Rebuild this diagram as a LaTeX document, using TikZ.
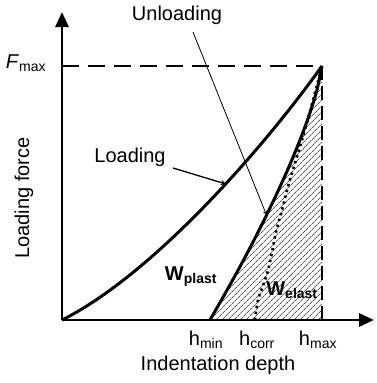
\documentclass[tikz,border=0pt]{standalone}
\usepackage{fontspec}
\setmainfont{Liberation Sans}
\usetikzlibrary{arrows.meta,patterns.meta}
\begin{document}
\begin{tikzpicture}[x=1pt,y=-1pt,>=stealth,
  axis/.style={line width=2.8pt,-{Triangle[length=15pt,width=13pt]}},
  curve/.style={line width=3pt,line join=round},
  guide/.style={line width=2.4pt,dash pattern=on 17pt off 9pt},
  pointer/.style={->,line width=0.8pt},
  lbl/.style={inner sep=0pt,font=\fontsize{20}{22}\selectfont}]
\useasboundingbox (0,0) rectangle (376,383);
% key points
\coordinate (O) at (62,320);
\coordinate (T) at (322,66);
\coordinate (F) at (62,66);
\coordinate (hmin) at (210,320);
\coordinate (hcorr) at (255,320);
\coordinate (hmax) at (322,320);
\coordinate (ytip) at (62,12);
\coordinate (xtip) at (374,320);
% elastic work (hatched)
\fill[pattern={Lines[angle=45,distance=4pt,line width=0.55pt]}]
  plot[smooth] coordinates {(hmin) (224.5,294.6) (238.6,269.2) (252.1,243.8)
    (264.9,218.4) (277.1,193) (288.6,167.6) (299.1,142.2) (308.6,116.8)
    (316.6,91.4) (T)} -- (hmax) -- cycle;
% guides to F_max and h_max
\draw[guide] (F) -- (T);
\draw[guide,dash pattern=on 14pt off 6pt] (T) -- (hmax);
% axes
\draw[axis] (O) -- (ytip);
\draw[axis] (O) -- (xtip);
% loading
\draw[curve] (O) .. controls (152,275) and (262,150) .. (T);
% unloading
\draw[curve] plot[smooth] coordinates {(hmin) (224.5,294.6) (238.6,269.2)
  (252.1,243.8) (264.9,218.4) (277.1,193) (288.6,167.6) (299.1,142.2)
  (308.6,116.8) (316.6,91.4) (T)};
% corrected unloading
\draw[line width=2.6pt,dash pattern=on 2.4pt off 3.6pt] plot[smooth] coordinates
  {(hcorr) (258,300) (265,280) (270,262) (276,232) (282,210) (289,183)
   (296,160) (304,133) (312,104) (T)};
% labels
\node[lbl] (unl) at (177,15) {Unloading};
\node[lbl] (ld) at (130,157) {Loading};
\node[lbl] (fmax) at (26,63) {\textit{F}\textsubscript{max}};
\node[lbl] (wpl) at (191,277) {\textbf{W\textsubscript{plast}}};
\node[lbl] (wel) at (292,290) {\textbf{W\textsubscript{elast}}};
\node[lbl] (hmn) at (206,340) {h\textsubscript{min}};
\node[lbl] (hcr) at (257,340) {h\textsubscript{corr}};
\node[lbl] (hmx) at (318,340) {h\textsubscript{max}};
\node[lbl] (xlab) at (218,365) {Indentation depth};
\node[lbl,rotate=90] (ylab) at (24,198) {Loading force};
% pointers
\coordinate (ustart) at (193,32);
\coordinate (uend) at (266.5,215);
\coordinate (lstart) at (173,168);
\coordinate (lend) at (226,184);
\draw[pointer] (ustart) -- (uend);
\draw[pointer,line width=1.3pt] (lstart) -- (lend);
\end{tikzpicture}
\end{document}
